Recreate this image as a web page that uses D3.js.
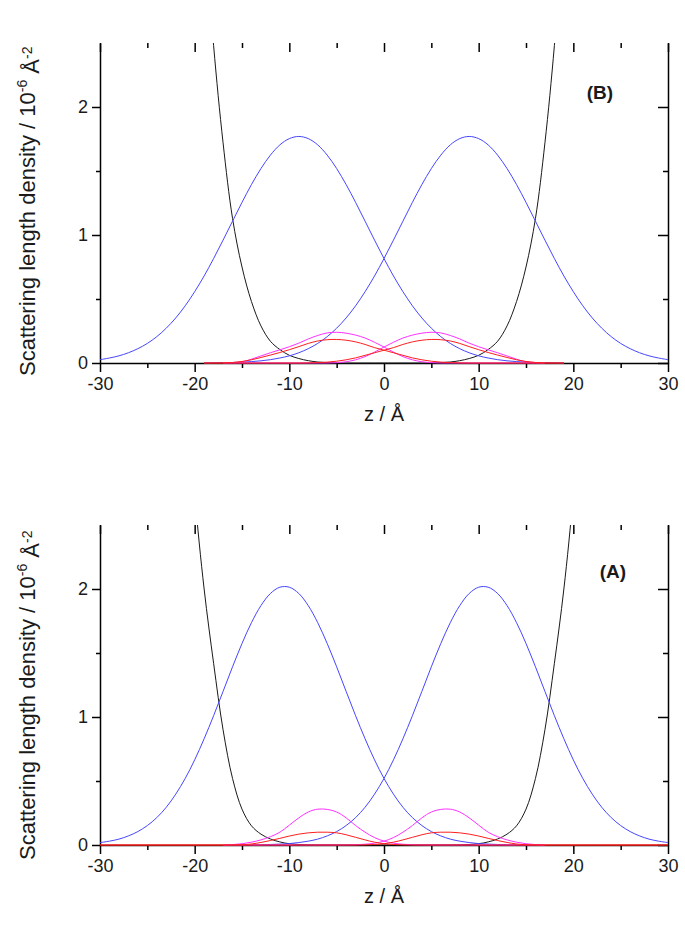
<!DOCTYPE html>
<html><head><meta charset="utf-8">
<script src="https://cdn.jsdelivr.net/npm/d3@7"></script>
<style>body{margin:0;background:#fff} text{font-family:"Liberation Sans",Arial,sans-serif}</style>
</head><body><svg id="c" width="685" height="931"></svg>
<script>
// z grid (Å)
const zValues = [-30,-29,-28,-27,-26,-25,-24,-23,-22,-21,-20,-19,-18,-17,-16,-15,-14,-13,-12,-11,-10,-9,-8,-7,-6,-5,-4,-3,-2,-1,0,1,2,3,4,5,6,7,8,9,10,11,12,13,14,15,16,17,18,19,20,21,22,23,24,25,26,27,28,29,30];
const xTicks = [-30,-20,-10,0,10,20,30];
const xMinorTicks = [-25,-15,-5,5,15,25];
const yTicks = [0,1,2];
const yMinorTicks = [0.5,1.5];
const panelLabels = ["(B)","(A)"];

// Panel B (top)
const blackB = [17.8,16.8,15.7,14.5,13.2,11.8,10.3,8.8,7.3,5.9,4.6,3.45,2.48,1.72,1.13,0.75,0.48,0.29,0.17,0.105,0.06,0.035,0.018,0.008,0.003,0.001,0,0,0,0,0,0,0,0,0,0.001,0.003,0.008,0.018,0.035,0.06,0.105,0.17,0.29,0.48,0.75,1.13,1.72,2.48,3.45,4.6,5.9,7.3,8.8,10.3,11.8,13.2,14.5,15.7,16.8,17.8];
const blueBL = [0.026,0.039,0.056,0.080,0.112,0.153,0.206,0.272,0.352,0.447,0.557,0.680,0.816,0.960,1.108,1.255,1.394,1.519,1.624,1.704,1.753,1.770,1.753,1.704,1.624,1.519,1.394,1.255,1.108,0.960,0.816,0.680,0.557,0.447,0.352,0.272,0.206,0.153,0.112,0.080,0.056,0.039,0.026,0.017,0.011,0.007,0.004,0.003,0.002,0.001,null,null,null,null,null,null,null,null,null,null,null];
const blueBR = [null,null,null,null,null,null,null,null,null,null,null,0.001,0.002,0.003,0.004,0.007,0.011,0.017,0.026,0.039,0.056,0.080,0.112,0.153,0.206,0.272,0.352,0.447,0.557,0.680,0.816,0.960,1.108,1.255,1.394,1.519,1.624,1.704,1.753,1.770,1.753,1.704,1.624,1.519,1.394,1.255,1.108,0.960,0.816,0.680,0.557,0.447,0.352,0.272,0.206,0.153,0.112,0.080,0.056,0.039,0.026];
const magBL = [null,null,null,null,null,null,null,null,null,null,null,null,null,0,0.002,0.008,0.03,0.055,0.08,0.103,0.127,0.155,0.188,0.215,0.235,0.24,0.233,0.218,0.195,0.162,0.125,0.085,0.05,0.025,0.01,0.003,0,0,0,0,0,0,0,0,0,0,0,0,null,null,null,null,null,null,null,null,null,null,null,null,null];
const magBR = [null,null,null,null,null,null,null,null,null,null,null,null,null,0,0,0,0,0,0,0,0,0,0,0,0,0.003,0.01,0.025,0.05,0.085,0.125,0.162,0.195,0.218,0.233,0.24,0.235,0.215,0.188,0.155,0.127,0.103,0.08,0.055,0.03,0.008,0.002,0,null,null,null,null,null,null,null,null,null,null,null,null,null];
const redBL = [null,null,null,null,null,null,null,null,null,null,null,0,0,0.001,0.004,0.012,0.025,0.043,0.062,0.082,0.104,0.128,0.153,0.172,0.182,0.184,0.178,0.165,0.145,0.12,0.10,0.08,0.06,0.04,0.025,0.014,0.007,0.003,0.001,0,0,0,0,0,0,0,0,0,0,0,null,null,null,null,null,null,null,null,null,null,null];
const redBR = [null,null,null,null,null,null,null,null,null,null,null,0,0,0,0,0,0,0,0,0,0,0,0.001,0.003,0.007,0.014,0.025,0.04,0.06,0.08,0.10,0.12,0.145,0.165,0.178,0.184,0.182,0.172,0.153,0.128,0.104,0.082,0.062,0.043,0.025,0.012,0.004,0.001,0,0,null,null,null,null,null,null,null,null,null,null,null];

// Panel A (bottom)
const blackA = [16,15,13.8,12.5,11,9.5,8,6.5,5.1,3.85,2.75,2.0,1.42,0.9,0.52,0.28,0.15,0.085,0.047,0.024,0.01,0.004,0.001,0,0,0,0,0,0,0,0,0,0,0,0,0,0,0,0.001,0.004,0.01,0.024,0.047,0.085,0.15,0.28,0.52,0.9,1.42,2.0,2.75,3.85,5.1,6.5,8,9.5,11,12.5,13.8,15,16];
const blueAL = [0.019,0.030,0.046,0.071,0.105,0.152,0.214,0.295,0.397,0.520,0.665,0.830,1.010,1.200,1.392,1.574,1.737,1.870,1.965,2.014,2.014,1.965,1.870,1.737,1.574,1.392,1.200,1.010,0.830,0.665,0.520,0.397,0.295,0.214,0.152,0.105,0.071,0.046,0.030,0.019,0.011,0.007,0.004,0.002,0.001,null,null,null,null,null,null,null,null,null,null,null,null,null,null,null,null];
const blueAR = [null,null,null,null,null,null,null,null,null,null,null,null,null,null,null,null,0.001,0.002,0.004,0.007,0.011,0.019,0.030,0.046,0.071,0.105,0.152,0.214,0.295,0.397,0.520,0.665,0.830,1.010,1.200,1.392,1.574,1.737,1.870,1.965,2.014,2.014,1.965,1.870,1.737,1.574,1.392,1.200,1.010,0.830,0.665,0.520,0.397,0.295,0.214,0.152,0.105,0.071,0.046,0.030,0.019];
const magAL = [null,null,null,null,null,null,null,null,null,null,null,null,null,0,0.003,0.01,0.022,0.04,0.065,0.1,0.155,0.212,0.258,0.28,0.278,0.258,0.212,0.152,0.1,0.058,0.03,0.014,0.006,0.002,0.001,0,0,0,0,0,0,0,0,0,0,0,0,0,null,null,null,null,null,null,null,null,null,null,null,null,null];
const magAR = [null,null,null,null,null,null,null,null,null,null,null,null,null,0,0,0,0,0,0,0,0,0,0,0,0,0,0.001,0.002,0.006,0.014,0.03,0.058,0.1,0.152,0.212,0.258,0.278,0.28,0.258,0.212,0.155,0.1,0.065,0.04,0.022,0.01,0.003,0,null,null,null,null,null,null,null,null,null,null,null,null,null];
const redAL = [0,0,0,0,0,0,0,0,0,0,0,0,0,0,0,0.002,0.008,0.02,0.035,0.052,0.07,0.085,0.095,0.1,0.1,0.095,0.08,0.06,0.04,0.022,0.01,0.004,0.001,0,0,0,0,0,0,0,0,0,0,0,0,0,0,0,0,0,0,0,0,0,0,0,0,0,0,0,0];
const redAR = [0,0,0,0,0,0,0,0,0,0,0,0,0,0,0,0,0,0,0,0,0,0,0,0,0,0,0,0,0.001,0.004,0.01,0.022,0.04,0.06,0.08,0.095,0.1,0.1,0.095,0.085,0.07,0.052,0.035,0.02,0.008,0.002,0,0,0,0,0,0,0,0,0,0,0,0,0,0,0];

const colors = {black:"#1a1a1a", blue:"#4646ff", magenta:"#ff30ff", red:"#ff1e1e"};

const panels = [
  {label: panelLabels[0], top: 43, bottom: 363, labelX: 600, labelY: 99, xlabY: 421, ylabStart: 376,
   series: [[blackB,"black"],[blueBL,"blue"],[blueBR,"blue"],[magBL,"magenta"],[magBR,"magenta"],[redBL,"red"],[redBR,"red"]]},
  {label: panelLabels[1], top: 525, bottom: 845, labelX: 613, labelY: 578, xlabY: 903, ylabStart: 860,
   series: [[blackA,"black"],[blueAL,"blue"],[blueAR,"blue"],[magAL,"magenta"],[magAR,"magenta"],[redAL,"red"],[redAR,"red"]]}
];

const svg = d3.select("#c");
const left = 100, right = 668;
const fmt = d => String(d);

panels.forEach((p, pi) => {
  const x = d3.scaleLinear().domain([-30, 30]).range([left, right]);
  const y = d3.scaleLinear().domain([0, 2.5]).range([p.bottom, p.top]);
  const g = svg.append("g");

  const clipId = "clip" + pi;
  svg.append("clipPath").attr("id", clipId).append("rect")
    .attr("x", left - 1).attr("y", p.top).attr("width", right - left + 2).attr("height", p.bottom - p.top + 2);

  const styleAxis = sel => { sel.selectAll("path,line").attr("stroke", "#000").attr("stroke-width", 1.5); sel.selectAll("text").attr("fill","#1a1a1a").style("font-size","18px").style("font-family","'Liberation Sans', Arial, sans-serif"); };

  g.append("g").attr("transform", `translate(0,${p.bottom})`)
    .call(d3.axisBottom(x).tickValues(xTicks).tickSize(9).tickSizeOuter(0).tickPadding(5).tickFormat(fmt))
    .call(styleAxis);
  g.append("g").attr("transform", `translate(0,${p.bottom})`)
    .call(d3.axisBottom(x).tickValues(xMinorTicks).tickSize(5).tickSizeOuter(0).tickFormat(""))
    .call(styleAxis).call(s => s.select(".domain").remove());
  // top ticks inward
  g.append("g").attr("transform", `translate(0,${p.top})`)
    .call(d3.axisBottom(x).tickValues(xTicks).tickSize(9).tickFormat(""))
    .call(styleAxis).call(s => s.select(".domain").remove());
  g.append("g").attr("transform", `translate(0,${p.top})`)
    .call(d3.axisBottom(x).tickValues(xMinorTicks).tickSize(5).tickFormat(""))
    .call(styleAxis).call(s => s.select(".domain").remove());
  // left axis
  g.append("g").attr("transform", `translate(${left},0)`)
    .call(d3.axisLeft(y).tickValues(yTicks).tickSize(8).tickSizeOuter(0).tickPadding(4).tickFormat(fmt))
    .call(styleAxis);
  g.append("g").attr("transform", `translate(${left},0)`)
    .call(d3.axisLeft(y).tickValues(yMinorTicks).tickSize(4).tickFormat(""))
    .call(styleAxis).call(s => s.select(".domain").remove());
  // right axis, ticks inward
  g.append("g").attr("transform", `translate(${right},0)`)
    .call(d3.axisLeft(y).tickValues(yTicks).tickSize(10).tickSizeOuter(0).tickFormat(""))
    .call(styleAxis);
  g.append("g").attr("transform", `translate(${right},0)`)
    .call(d3.axisLeft(y).tickValues(yMinorTicks).tickSize(5).tickFormat(""))
    .call(styleAxis).call(s => s.select(".domain").remove());

  // curves
  const line = d3.line()
    .defined(d => d[1] !== null)
    .x(d => x(d[0])).y(d => y(d[1]))
    .curve(d3.curveCatmullRom.alpha(0.5));
  const cg = g.append("g").attr("clip-path", `url(#${clipId})`);
  p.series.forEach(([vals, c]) => {
    cg.append("path")
      .datum(zValues.map((z, i) => [z, vals[i]]))
      .attr("d", line)
      .attr("fill", "none")
      .attr("stroke", colors[c])
      .attr("stroke-width", 1);
  });

  // labels
  g.append("text").attr("x", p.labelX).attr("y", p.labelY)
    .attr("text-anchor", "middle").attr("fill", "#1a1a1a").style("font-size", "19px").style("font-weight", "bold")
    .text(p.label);

  g.append("text").attr("x", (left + right) / 2).attr("y", p.xlabY)
    .attr("text-anchor", "middle").attr("fill", "#1a1a1a").style("font-size", "20px").text("z / Å");

  const yl = g.append("text")
    .attr("transform", `translate(35,${p.ylabStart}) rotate(-90)`)
    .attr("text-anchor", "start").attr("fill", "#1a1a1a").style("font-size", "22px");
  yl.append("tspan").text("Scattering length density / 10");
  yl.append("tspan").attr("dy", "-0.55em").style("font-size", "14px").text("-6");
  yl.append("tspan").attr("dy", "0.55em").text("\u00A0Å");
  yl.append("tspan").attr("dy", "-0.55em").style("font-size", "14px").text("-2");
});
</script>
</body></html>
